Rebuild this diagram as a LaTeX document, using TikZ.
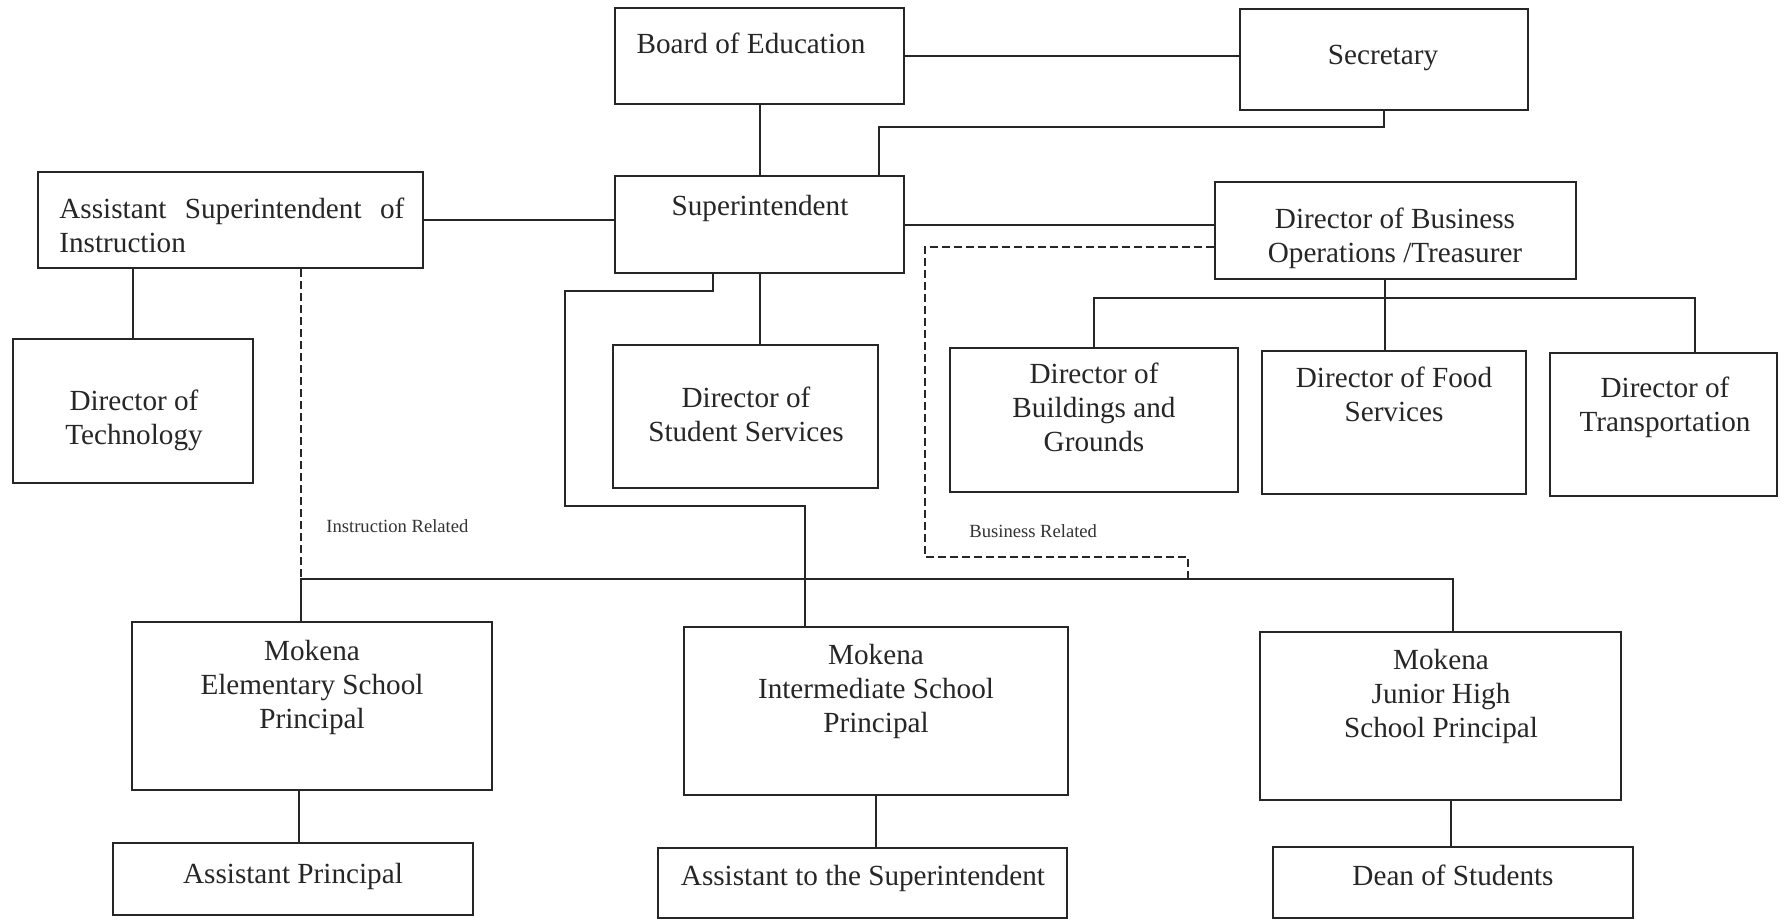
\documentclass[tikz,border=0pt]{standalone}
\usepackage{fontspec}
\setmainfont{Liberation Serif}
\usetikzlibrary{fit}
\begin{document}
\begin{tikzpicture}[x=0.5pt,y=-0.5pt,
  box/.style={draw=black!85, line width=1pt, inner sep=0pt, fit={#1}},
  conn/.style={draw=black!85, line width=1pt},
  rel/.style={draw=black!85, line width=1pt, dash pattern=on 4pt off 2pt},
  txt/.style={font=\fontsize{14.6}{17}\selectfont, text=black!85, inner sep=0pt, align=center},
  lbl/.style={font=\fontsize{9.3}{11}\selectfont, text=black!80, inner sep=0pt}]
\fill[white] (0,0) rectangle (1784,920);
\useasboundingbox (0,0) rectangle (1784,920);

% boxes
\node[box={(615,8) (904,104)}] (board) {};
\node[box={(1240,9) (1528,110)}] (sec) {};
\node[box={(615,176) (904,273)}] (supt) {};
\node[box={(38,172) (423,268)}] (asi) {};
\node[box={(1215,182) (1576,279)}] (dbo) {};
\node[box={(13,339) (253,483)}] (tech) {};
\node[box={(613,345) (878,488)}] (ss) {};
\node[box={(950,348) (1238,492)}] (bg) {};
\node[box={(1262,351) (1526,494)}] (food) {};
\node[box={(1550,353) (1777,496)}] (trans) {};
\node[box={(132,622) (492,790)}] (elem) {};
\node[box={(684,627) (1068,795)}] (inter) {};
\node[box={(1260,632) (1621,800)}] (jh) {};
\node[box={(113,843) (473,915)}] (ap) {};
\node[box={(658,848) (1067,918)}] (ats) {};
\node[box={(1273,847) (1633,918)}] (dean) {};

% texts
\node[txt, anchor=base] (tboard) at (751,54) {Board of Education};
\node[txt, anchor=base] (tsec) at (1383,65) {Secretary};
\node[txt, anchor=base] (tsupt) at (760,215) {Superintendent};
\node[txt, anchor=north west, align=left] (tasi) at (59,198)
  {\hbox to 172.5pt{Assistant\hfill Superintendent\hfill of}\\Instruction};
\node[txt, anchor=north] (tdbo) at (1395,208) {Director of Business\\Operations /Treasurer};
\node[txt, anchor=north] (ttech) at (134,390) {Director of\\Technology};
\node[txt, anchor=north] (tss) at (746,387) {Director of\\Student Services};
\node[txt, anchor=north] (tbg) at (1094,363) {Director of\\Buildings and\\Grounds};
\node[txt, anchor=north] (tfood) at (1394,367) {Director of Food\\Services};
\node[txt, anchor=north] (ttrans) at (1665,377) {Director of\\Transportation};
\node[txt, anchor=north] (telem) at (312,640) {Mokena\\Elementary School\\Principal};
\node[txt, anchor=north] (tinter) at (876,644) {Mokena\\Intermediate School\\Principal};
\node[txt, anchor=north] (tjh) at (1441,649) {Mokena\\Junior High\\School Principal};
\node[txt, anchor=base] (tap) at (293,883) {Assistant Principal};
\node[txt, anchor=base] (tats) at (863,885) {Assistant to the Superintendent};
\node[txt, anchor=base] (tdean) at (1453,885) {Dean of Students};
\node[lbl, anchor=base west] (lins) at (326,532) {Instruction Related};
\node[lbl, anchor=base west] (lbus) at (969,537) {Business Related};

% helper coordinates
\coordinate (s1) at (879,127);
\coordinate (k1) at (713,291);
\coordinate (k2) at (565,506);
\coordinate (k3) at (805,506);
\coordinate (bl) at (1094,298);
\coordinate (bm) at (1385,298);
\coordinate (br) at (1695,298);
\coordinate (sl) at (301,579);
\coordinate (sr) at (1453,579);
\coordinate (d1) at (925,247);
\coordinate (d2) at (1188,557);
\coordinate (e1) at (299,0);
\coordinate (j1) at (1451,0);

% connectors
\draw[conn] (board.east) -- (board.east -| sec.west);
\draw[conn] (board.south) -- (board.south |- supt.north);
\draw[conn] (sec.south) |- (s1) -- (s1 |- supt.north);
\draw[conn] (asi.east) -- (asi.east -| supt.west);
\draw[conn] (supt.east) -- (supt.east -| dbo.west);
\draw[conn] (tech.north) -- (tech.north |- asi.south);
\draw[conn] (supt.south) -- (supt.south |- ss.north);
\draw[conn] (k1 |- supt.south) -- (k1) -| (k2) -- (k3) -- (k3 |- inter.north);
\draw[conn] (bm |- dbo.south) -- (bm |- food.north);
\draw[conn] (bl |- bg.north) -- (bl) -- (br) -- (br |- trans.north);
\draw[rel] (sl |- asi.south) -- (sl);
\draw[conn] (sl |- elem.north) -- (sl) -- (sr) -- (sr |- jh.north);
\draw[rel] (d1 -| dbo.west) -- (d1) |- (d2) -- (d2 |- sl);
\draw[conn] (e1 |- elem.south) -- (e1 |- ap.north);
\draw[conn] (inter.south) -- (inter.south |- ats.north);
\draw[conn] (j1 |- jh.south) -- (j1 |- dean.north);
\end{tikzpicture}
\end{document}
